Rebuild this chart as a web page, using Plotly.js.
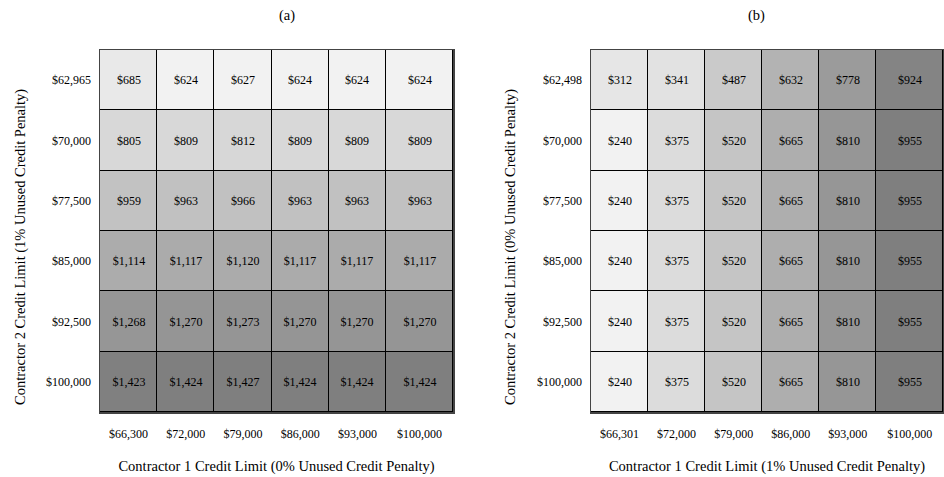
<!DOCTYPE html>
<html>
<head>
<meta charset="utf-8">
<script src="https://cdn.plot.ly/plotly-3.0.1.min.js"></script>
<style>html,body{margin:0;padding:0;background:#fff}#chart{width:944px;height:477px}</style>
</head>
<body>
<div id="chart"></div>
<script>
// ---- data ----
const xLabelsA = ["$66,300", "$72,000", "$79,000", "$86,000", "$93,000", "$100,000"];
const yLabelsA = ["$62,965", "$70,000", "$77,500", "$85,000", "$92,500", "$100,000"];
const valuesA = [
  [685, 624, 627, 624, 624, 624],
  [805, 809, 812, 809, 809, 809],
  [959, 963, 966, 963, 963, 963],
  [1114, 1117, 1120, 1117, 1117, 1117],
  [1268, 1270, 1273, 1270, 1270, 1270],
  [1423, 1424, 1427, 1424, 1424, 1424]
];
const xLabelsB = ["$66,301", "$72,000", "$79,000", "$86,000", "$93,000", "$100,000"];
const yLabelsB = ["$62,498", "$70,000", "$77,500", "$85,000", "$92,500", "$100,000"];
const valuesB = [
  [312, 341, 487, 632, 778, 924],
  [240, 375, 520, 665, 810, 955],
  [240, 375, 520, 665, 810, 955],
  [240, 375, 520, 665, 810, 955],
  [240, 375, 520, 665, 810, 955],
  [240, 375, 520, 665, 810, 955]
];
const titleA = "(a)", titleB = "(b)";
const xTitleA = "Contractor 1 Credit Limit (0% Unused Credit Penalty)";
const yTitleA = "Contractor 2 Credit Limit (1% Unused Credit Penalty)";
const xTitleB = "Contractor 1 Credit Limit (1% Unused Credit Penalty)";
const yTitleB = "Contractor 2 Credit Limit (0% Unused Credit Penalty)";

// ---- layout helpers ----
const FONT = "'Liberation Serif', serif";
const lastW = 1.17; // last column is drawn a little wider
function edges(n){ const e=[]; for(let i=0;i<n;i++) e.push(i); e.push(n-1+lastW); return e; }
function mids(e){ const m=[]; for(let i=0;i<e.length-1;i++) m.push((e[i]+e[i+1])/2); return m; }
const W = 944;

function heat(vals, xl, xa, ya){
  const xe = edges(xl.length);
  const ye = []; for(let i=0;i<=vals.length;i++) ye.push(i);
  let mn=Infinity, mx=-Infinity;
  vals.forEach(r=>r.forEach(v=>{mn=Math.min(mn,v);mx=Math.max(mx,v);}));
  return {
    type:'heatmap', z: vals, x: xe, y: ye, xaxis: xa, yaxis: ya,
    zmin: mn, zmax: mx,
    colorscale: [[0,'#f2f2f2'],[1,'#7f7f7f']],
    showscale:false, xgap:1, ygap:1,
    texttemplate:'$%{z:,}', textfont:{family:FONT, size:12, color:'#000'},
    hoverinfo:'skip'
  };
}
function xax(xl, title, dom, anchor){
  const xe = edges(xl.length);
  return {domain:dom, anchor:anchor, range:[0, xe[xe.length-1]], tickvals:mids(xe), ticktext:xl,
    showgrid:false, zeroline:false, showline:true, mirror:true, linecolor:'#444', linewidth:1.5,
    ticks:'outside', ticklen:10, tickcolor:'rgba(0,0,0,0)',
    tickfont:{family:FONT,size:12,color:'#000'},
    title:{text:title, font:{family:FONT,size:14.5,color:'#000'}, standoff:21}};
}
function yax(yl, anchor){
  const yc=[]; for(let i=0;i<yl.length;i++) yc.push(i+0.5);
  return {domain:[0,1], anchor:anchor, range:[yl.length,0], tickvals:yc, ticktext:yl,
    showgrid:false, zeroline:false, showline:true, mirror:true, linecolor:'#444', linewidth:1.5,
    ticks:'outside', ticklen:5, tickcolor:'rgba(0,0,0,0)',
    tickfont:{family:FONT,size:12,color:'#000'}};
}

const data = [heat(valuesA, xLabelsA, 'x', 'y'), heat(valuesB, xLabelsB, 'x2', 'y2')];
const domA = [100/W, 453/W], domB = [591/W, 943/W];
const yTitleY = 0.456;
const layout = {
  width:944, height:477, margin:{l:0,r:0,t:50,b:65},
  paper_bgcolor:'#fff', plot_bgcolor:'#000',
  font:{family:FONT, color:'#000'},
  xaxis: xax(xLabelsA, xTitleA, domA, 'y'),
  yaxis: yax(yLabelsA, 'x'),
  xaxis2: xax(xLabelsB, xTitleB, domB, 'y2'),
  yaxis2: yax(yLabelsB, 'x2'),
  annotations:[
    {text:titleA, xref:'paper', yref:'paper', x:(domA[0]+domA[1])/2, y:1, yshift:45, showarrow:false, font:{family:FONT,size:14.5,color:'#000'}},
    {text:titleB, xref:'paper', yref:'paper', x:(domB[0]+domB[1])/2, y:1, yshift:45, showarrow:false, font:{family:FONT,size:14.5,color:'#000'}},
    {text:yTitleA, xref:'paper', yref:'paper', x:21/W, y:yTitleY, xanchor:'center', yanchor:'middle', textangle:-90, showarrow:false, font:{family:FONT,size:14.5,color:'#000'}},
    {text:yTitleB, xref:'paper', yref:'paper', x:511/W, y:yTitleY, xanchor:'center', yanchor:'middle', textangle:-90, showarrow:false, font:{family:FONT,size:14.5,color:'#000'}}
  ]
};
Plotly.newPlot('chart', data, layout, {displayModeBar:false, staticPlot:true});
</script>
</body>
</html>
